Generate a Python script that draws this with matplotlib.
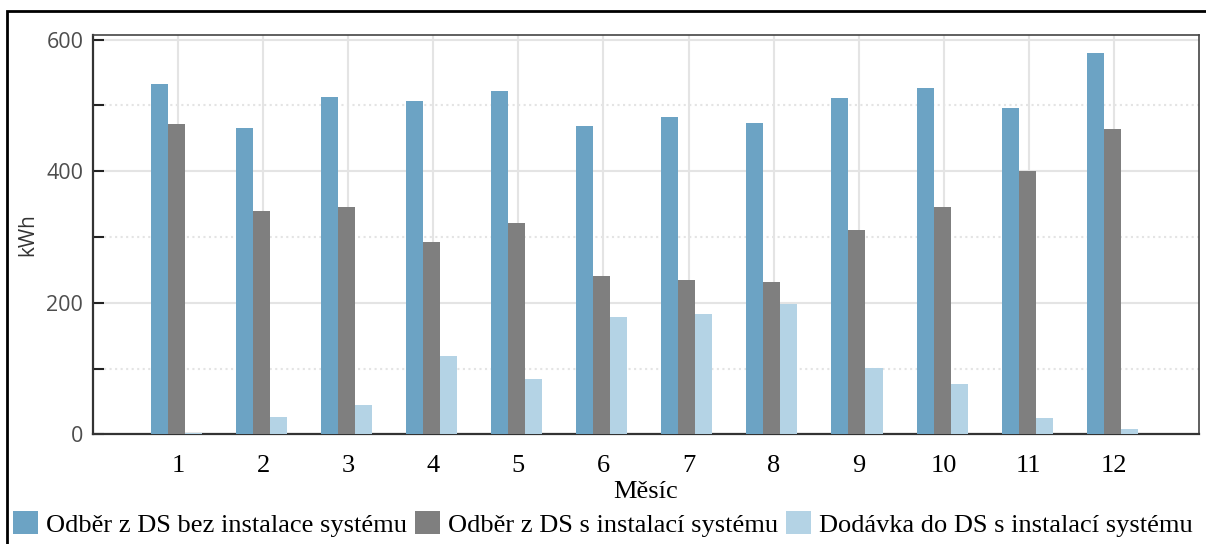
import numpy as np
import matplotlib.pyplot as plt
from matplotlib.patches import Rectangle, Patch

# měsíční hodnoty v kWh
mesice = ['1', '2', '3', '4', '5', '6', '7', '8', '9', '10', '11', '12']
odber_bez = [532, 466, 513, 507, 522, 468, 482, 474, 511, 527, 496, 579]
odber_s = [471, 340, 345, 293, 322, 241, 234, 232, 311, 345, 400, 464]
dodavka_s = [3, 27, 45, 120, 85, 178, 183, 198, 101, 76, 25, 8]

nazvy = ['Odběr z DS bez instalace systému',
         'Odběr z DS s instalací systému',
         'Dodávka do DS s instalací systému']

# barvy
modra = '#6ca3c4'
seda = '#7f7f7f'
svetla = '#b4d3e5'
mrizka = '#e4e4e4'

fig = plt.figure(figsize=(12.06, 5.44), dpi=100)
ax = fig.add_axes([0.0771, 0.2013, 0.9171, 0.7344])

x = np.arange(1, len(mesice) + 1)
sirka = 0.2
ax.bar(x - 0.22, odber_bez, sirka, color=modra, zorder=3)
ax.bar(x - 0.02, odber_s, sirka, color=seda, zorder=3)
ax.bar(x + 0.18, dodavka_s, sirka, color=svetla, zorder=3)

ax.set_xlim(0, 13)
ax.set_ylim(0, 607)
ax.set_xticks(x)
ax.set_xticklabels(mesice, family='Liberation Serif', fontsize=19)
ax.set_yticks([0, 200, 400, 600])
ax.set_yticks([100, 300, 500], minor=True)
for t in ax.get_yticklabels():
    t.set_family('Open Sans')
    t.set_fontsize(15.5)
    t.set_color('#4d4d4d')

# mřížka: plné hlavní čáry, tečkované vedlejší
ax.grid(axis='x', color=mrizka, linewidth=1.5, zorder=0)
ax.grid(axis='y', which='major', color=mrizka, linewidth=1.5, zorder=0)
ax.grid(axis='y', which='minor', color=mrizka, linewidth=1.5, linestyle=':', zorder=0)

ax.tick_params(axis='x', direction='in', length=8, width=1.5, color='#222222', pad=15)
ax.tick_params(axis='y', which='both', direction='in', length=8, width=1.5,
               color='#222222', pad=7)

for s in ['left', 'bottom']:
    ax.spines[s].set_linewidth(1.6)
    ax.spines[s].set_color('#333333')
for s in ['top', 'right']:
    ax.spines[s].set_linewidth(1.2)
    ax.spines[s].set_color('#444444')

ax.set_xlabel('Měsíc', family='Liberation Serif', fontsize=19, labelpad=3)
ax.set_ylabel('kWh', family='Open Sans', fontsize=15, color='#333333', labelpad=6)

# legenda pod grafem
ruce = [Patch(facecolor=c, edgecolor='none') for c in (modra, seda, svetla)]
fig.legend(ruce, nazvy, loc='lower left', bbox_to_anchor=(0.002, -0.006), ncol=3,
           frameon=False, prop={'family': 'Liberation Serif', 'size': 19},
           handlelength=0.95, handleheight=1.0, handletextpad=0.3,
           columnspacing=0.3, borderaxespad=0)

# vnější rámeček
fig.patches.append(Rectangle((7 / 1206, -0.05), 1.2, 1 - 11 / 544 + 0.05,
                             transform=fig.transFigure, fill=False,
                             edgecolor='black', linewidth=2))

plt.savefig('out.png', dpi=100)
plt.close()
